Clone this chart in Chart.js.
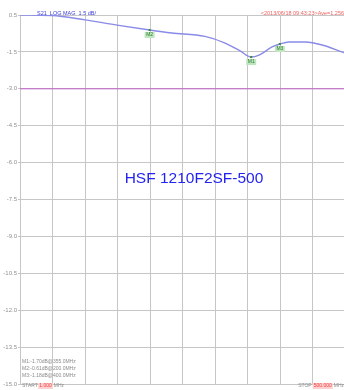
<!DOCTYPE html>
<html>
<head>
<meta charset="utf-8">
<script src="https://cdn.jsdelivr.net/npm/chart.js@4/dist/chart.umd.min.js"></script>
<style>
html,body{margin:0;padding:0;background:#fff;overflow:hidden;width:344px;height:390px;}
#wrap{position:relative;width:346px;height:390px;}
</style>
</head>
<body>
<div id="wrap"><canvas id="c" width="346" height="390"></canvas></div>
<script>
// Frequency (MHz) and S21 (dB)
const freqs = [1, 50, 101, 150, 200, 234, 285, 316, 339, 356, 368, 388, 400, 414, 439, 465, 495, 500];
const s21 = [0.00, -0.02, -0.20, -0.41, -0.61, -0.73, -0.87, -1.14, -1.46, -1.71, -1.63, -1.30, -1.18, -1.10, -1.10, -1.22, -1.50, -1.55];
const refLine = [-3.0, -3.0];
const refFreqs = [1, 500];
const yTickValues = [0, -1.5, -3.0, -4.5, -6.0, -7.5, -9.0, -10.5, -12.0, -13.5, -15.0];
const yTickLabels = ["0.5", "-1.5", "-3.0", "-4.5", "-6.0", "-7.5", "-9.0", "-10.5", "-12.0", "-13.5", "-15.0"];
const markerNames = ["M1", "M2", "M3"];
const markerFreqs = [356, 200, 400];
const markerValues = [-1.71, -0.61, -1.18];
const markerReadouts = ["M1:-1.70dB@355.0MHz", "M2:-0.61dB@200.0MHz", "M3:-1.18dB@400.0MHz"];
const startText = "START";
const startValue = "1.000";
const startUnit = "MHz";
const stopText = "STOP";
const stopValue = "500.000";
const stopUnit = "MHz";
const headerText = "S21  LOG MAG  1.5 dB/";
const stampText = "<2013/06/18 09:43:23>Ave=1.256";
const titleText = "HSF 1210F2SF-500";

const overlay = {
  id: 'overlay',
  afterDatasetsDraw(chart) {
    const ctx = chart.ctx;
    const xs = chart.scales.x, ys = chart.scales.y;
    ctx.save();
    // markers
    ctx.font = '5px "Liberation Sans", Arial';
    ctx.textAlign = 'center';
    ctx.textBaseline = 'middle';
    markerNames.forEach((n, i) => {
      const px = xs.getPixelForValue(markerFreqs[i]);
      const py = ys.getPixelForValue(markerValues[i]);
      ctx.fillStyle = '#3a8a3a';
      ctx.fillRect(px - 1, py - 1, 2, 2);
      ctx.fillStyle = '#bfe6bf';
      ctx.fillRect(px - 5, py + 2, 10, 6);
      ctx.fillStyle = '#2f7a2f';
      ctx.fillText(n, px, py + 5);
    });
    // header
    ctx.textAlign = 'left';
    ctx.fillStyle = '#3b3bd8';
    ctx.font = '5.5px "Liberation Sans", Arial';
    ctx.fillText(headerText, 37, 13);
    ctx.textAlign = 'right';
    ctx.fillStyle = '#f06060';
    ctx.fillText(stampText, 344, 13);
    // title
    ctx.textAlign = 'center';
    ctx.fillStyle = '#2424f0';
    ctx.font = '15.5px "Liberation Sans", Arial';
    ctx.fillText(titleText, 194, 179);
    // readouts
    ctx.textAlign = 'left';
    ctx.font = '5px "Liberation Sans", Arial';
    ctx.fillStyle = '#8a8a8a';
    markerReadouts.forEach((t, i) => ctx.fillText(t, 22, 362 + i * 7));
    // start
    ctx.fillText(startText, 22, 386);
    let w = ctx.measureText(startText + ' ').width;
    ctx.fillStyle = '#ffd0d0';
    const vw = ctx.measureText(startValue).width;
    ctx.fillRect(22 + w - 1, 383, vw + 2, 6);
    ctx.fillStyle = '#f04040';
    ctx.fillText(startValue, 22 + w, 386);
    ctx.fillStyle = '#8a8a8a';
    ctx.fillText(startUnit, 22 + w + vw + 2, 386);
    // stop
    ctx.textAlign = 'right';
    const uw = ctx.measureText(stopUnit).width;
    ctx.fillText(stopUnit, 344, 386);
    const sw = ctx.measureText(stopValue).width;
    ctx.fillStyle = '#ffd0d0';
    ctx.fillRect(344 - uw - 2 - sw - 1, 383, sw + 2, 6);
    ctx.fillStyle = '#f04040';
    ctx.fillText(stopValue, 344 - uw - 2, 386);
    ctx.fillStyle = '#8a8a8a';
    ctx.fillText(stopText, 344 - uw - 2 - sw - 2, 386);
    ctx.restore();
  }
};

new Chart(document.getElementById('c'), {
  type: 'line',
  data: {
    datasets: [
      {
        data: freqs.map((f, i) => ({x: f, y: s21[i]})),
        borderColor: '#8a8ae8',
        borderWidth: 1.4,
        pointRadius: 0,
        cubicInterpolationMode: 'monotone'
      },
      {
        data: refFreqs.map((f, i) => ({x: f, y: refLine[i]})),
        borderColor: '#c060c8',
        borderWidth: 1,
        pointRadius: 0
      }
    ]
  },
  options: {
    responsive: false,
    animation: false,
    events: [],
    layout: {padding: {top: 15, bottom: 6, left: 0, right: 1}},
    plugins: {legend: {display: false}, tooltip: {enabled: false}},
    scales: {
      x: {
        type: 'linear',
        min: freqs[0],
        max: freqs[freqs.length - 1],
        afterBuildTicks(scale) {
          const n = 10;
          scale.ticks = Array.from({length: n + 1}, (_, i) => ({value: scale.min + i * (scale.max - scale.min) / n}));
        },
        afterFit(scale) { scale.height = 0; },
        ticks: {display: false},
        grid: {color: '#c6c6c6', lineWidth: 1, drawTicks: false},
        border: {display: false}
      },
      y: {
        min: -15,
        max: 0,
        afterBuildTicks(scale) { scale.ticks = yTickValues.map(v => ({value: v})); },
        afterFit(scale) { scale.width = 20; },
        ticks: {
          color: '#929292',
          font: {size: 6, family: '"Liberation Sans", Arial'},
          padding: 1,
          callback: (v) => { const i = yTickValues.findIndex(t => Math.abs(t - v) < 1e-6); return i >= 0 ? yTickLabels[i] : ''; }
        },
        grid: {color: '#c6c6c6', lineWidth: 1, tickLength: 2},
        border: {display: true, color: '#c6c6c6'}
      }
    }
  },
  plugins: [overlay]
});
</script>
</body>
</html>
